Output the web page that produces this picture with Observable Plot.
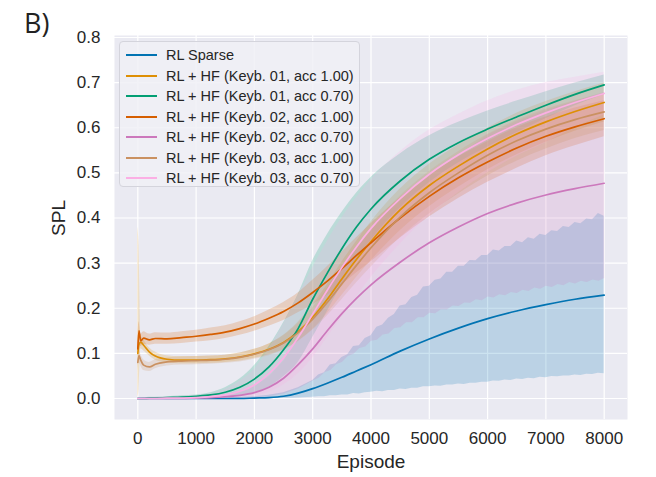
<!DOCTYPE html>
<html><head><meta charset="utf-8">
<script src="https://cdn.jsdelivr.net/npm/d3@7"></script>
<script src="https://cdn.jsdelivr.net/npm/@observablehq/plot@0.6"></script>
<style>
body{margin:0;background:#fff;}
#wrap{position:relative;width:656px;height:477px;font-family:"Liberation Sans",Arial,sans-serif;color:#262626;overflow:hidden;}
#wrap svg{position:absolute;left:0;top:0;}
.lab{position:absolute;white-space:nowrap;line-height:1;}
#legend{position:absolute;left:119px;top:41px;width:241px;height:146px;box-sizing:border-box;background:rgba(240,240,246,0.85);border:1px solid #d4d4dc;border-radius:4px;}
.row{position:absolute;left:0;height:20px;font-size:14.5px;line-height:20px;}
.sw{position:absolute;left:6px;top:9px;width:31px;height:2px;}
.tx{position:absolute;left:46px;top:0;white-space:nowrap;}
</style></head><body><div id="wrap"></div>
<script>
const episodes = [0, 20, 50, 100, 200, 300, 500, 750, 1000, 1250, 1500, 1750, 2000, 2250, 2500, 2750, 3000, 3250, 3500, 3750, 4000, 4500, 5000, 5500, 6000, 6500, 7000, 7500, 8000];

const seriesNames = ["RL Sparse", "RL + HF (Keyb. 01, acc 1.00)", "RL + HF (Keyb. 01, acc 0.70)", "RL + HF (Keyb. 02, acc 1.00)", "RL + HF (Keyb. 02, acc 0.70)", "RL + HF (Keyb. 03, acc 1.00)", "RL + HF (Keyb. 03, acc 0.70)"];
const seriesColors = ["#0173B2", "#DE8F05", "#029E73", "#D55E00", "#CC78BC", "#CA9161", "#FBAFE4"];

// RL Sparse
const sparseMean = [0,0,0,0,0,0,0,0,0,0,0,0,0.001,0.002,0.005,0.012,0.022,0.034,0.047,0.061,0.075,0.105,0.132,0.156,0.177,0.194,0.208,0.22,0.229];
const sparseLo   = [0,0,0,0,0,0,0,0,0,0,0,0,0,0,0,0.001,0.003,0.005,0.008,0.011,0.015,0.022,0.028,0.033,0.038,0.043,0.047,0.051,0.055];
const sparseHi   = [0,0,0,0,0,0,0,0,0.0005,0.001,0.001,0.002,0.004,0.007,0.013,0.024,0.04,0.062,0.088,0.114,0.14,0.198,0.25,0.288,0.318,0.342,0.362,0.384,0.405];
// RL Sparse band, fine-grained (3000..8000 every 100 episodes): noisy edges
const sparseBandFineLo = [0.003,0.004,0.004,0.006,0.006,0.008,0.008,0.011,0.010,0.013,0.014,0.016,0.015,0.018,0.018,0.021,0.020,0.023,0.023,0.026,0.026,0.028,0.027,0.030,0.030,0.032,0.031,0.034,0.034,0.036,0.036,0.039,0.038,0.041,0.040,0.043,0.042,0.045,0.044,0.047,0.046,0.049,0.048,0.050,0.050,0.052,0.051,0.054,0.053,0.056,0.055];
const sparseBandFineHi = [0.040,0.052,0.057,0.074,0.077,0.091,0.097,0.115,0.117,0.133,0.139,0.158,0.163,0.178,0.186,0.205,0.208,0.224,0.229,0.247,0.249,0.262,0.265,0.280,0.280,0.293,0.293,0.306,0.305,0.317,0.317,0.329,0.327,0.337,0.337,0.349,0.345,0.356,0.353,0.364,0.361,0.372,0.370,0.381,0.379,0.390,0.387,0.398,0.396,0.410,0.404];
// Keyb. 01, acc 1.00
const k01a100Mean = [0.10,0.12,0.125,0.118,0.103,0.094,0.087,0.085,0.085,0.086,0.088,0.092,0.099,0.109,0.124,0.148,0.18,0.22,0.265,0.308,0.348,0.418,0.472,0.515,0.553,0.586,0.613,0.636,0.656];
const k01a100Lo   = [0.0,0.02,0.11,0.106,0.094,0.085,0.079,0.077,0.077,0.078,0.08,0.083,0.089,0.097,0.108,0.127,0.153,0.188,0.228,0.268,0.305,0.372,0.425,0.468,0.507,0.54,0.568,0.592,0.613];
const k01a100Hi   = [0.38,0.34,0.14,0.13,0.112,0.103,0.095,0.093,0.093,0.094,0.096,0.101,0.109,0.121,0.14,0.169,0.207,0.252,0.302,0.348,0.391,0.464,0.519,0.562,0.599,0.632,0.658,0.68,0.699];
// Keyb. 01, acc 0.70
const k01a070Mean = [0,0,0,0,0.001,0.001,0.002,0.003,0.005,0.008,0.014,0.025,0.043,0.07,0.108,0.155,0.22,0.278,0.332,0.38,0.42,0.482,0.53,0.567,0.597,0.624,0.65,0.674,0.695];
const k01a070Lo   = [0,0,0,0,0,0,0,0.001,0.002,0.003,0.004,0.007,0.013,0.025,0.048,0.08,0.135,0.193,0.252,0.305,0.35,0.422,0.478,0.522,0.557,0.589,0.62,0.649,0.673];
const k01a070Hi   = [0.001,0.001,0.001,0.002,0.003,0.003,0.004,0.006,0.008,0.013,0.024,0.043,0.073,0.115,0.168,0.23,0.305,0.363,0.412,0.455,0.49,0.542,0.582,0.612,0.637,0.659,0.68,0.699,0.717];
// Keyb. 02, acc 1.00
const k02a100Mean = [0.11,0.15,0.128,0.134,0.13,0.133,0.132,0.135,0.138,0.142,0.147,0.155,0.165,0.178,0.193,0.212,0.235,0.26,0.288,0.317,0.345,0.4,0.448,0.489,0.524,0.555,0.581,0.602,0.62];
const k02a100Lo   = [0.09,0.13,0.115,0.12,0.118,0.12,0.12,0.122,0.125,0.128,0.133,0.14,0.149,0.16,0.173,0.19,0.208,0.228,0.252,0.278,0.303,0.355,0.402,0.443,0.479,0.51,0.538,0.56,0.58];
const k02a100Hi   = [0.13,0.17,0.142,0.148,0.143,0.146,0.145,0.148,0.151,0.156,0.161,0.17,0.181,0.196,0.213,0.234,0.262,0.292,0.324,0.356,0.387,0.445,0.494,0.535,0.569,0.6,0.624,0.644,0.66];
// Keyb. 02, acc 0.70
const k02a070Mean = [0,0,0,0,0,0,0,0,0.001,0.002,0.004,0.007,0.013,0.025,0.045,0.075,0.11,0.15,0.188,0.222,0.252,0.302,0.345,0.38,0.41,0.433,0.451,0.465,0.477];
const k02a070Lo   = [0,0,0,0,0,0,0,0,0,0,0,0.001,0.002,0.005,0.011,0.022,0.04,0.062,0.085,0.108,0.128,0.163,0.19,0.21,0.226,0.239,0.25,0.26,0.267];
const k02a070Hi   = [0.001,0.001,0.001,0.001,0.001,0.001,0.002,0.002,0.003,0.006,0.01,0.017,0.028,0.05,0.085,0.135,0.19,0.245,0.295,0.338,0.378,0.44,0.495,0.54,0.585,0.615,0.64,0.66,0.68];
// Keyb. 02, acc 0.70 lower band edge, fine-grained (3000..8000 every 100 episodes)
const k02a070FineLo = [0.040,0.046,0.058,0.063,0.076,0.081,0.094,0.099,0.112,0.115,0.128,0.130,0.142,0.144,0.156,0.158,0.169,0.169,0.180,0.180,0.190,0.189,0.198,0.197,0.206,0.205,0.213,0.212,0.220,0.218,0.226,0.224,0.231,0.229,0.236,0.234,0.241,0.238,0.246,0.243,0.250,0.247,0.254,0.251,0.258,0.255,0.261,0.258,0.264,0.261,0.267];
// Keyb. 03, acc 1.00
const k03a100Mean = [0.08,0.095,0.085,0.074,0.07,0.076,0.081,0.083,0.084,0.085,0.087,0.091,0.098,0.108,0.123,0.146,0.176,0.213,0.254,0.295,0.334,0.402,0.456,0.5,0.539,0.571,0.597,0.618,0.635];
const k03a100Lo   = [0.06,0.08,0.072,0.062,0.06,0.066,0.072,0.074,0.075,0.076,0.078,0.081,0.087,0.095,0.107,0.126,0.151,0.183,0.219,0.256,0.291,0.356,0.409,0.453,0.493,0.526,0.553,0.576,0.594];
const k03a100Hi   = [0.1,0.11,0.098,0.086,0.08,0.086,0.09,0.092,0.093,0.094,0.096,0.101,0.109,0.121,0.139,0.166,0.201,0.243,0.289,0.334,0.377,0.448,0.503,0.547,0.585,0.616,0.641,0.66,0.676];
// Keyb. 03, acc 0.70
const k03a070Mean = [0,0,0,0,0,0,0.001,0.001,0.002,0.004,0.008,0.016,0.03,0.055,0.09,0.135,0.187,0.24,0.29,0.336,0.377,0.443,0.497,0.54,0.576,0.607,0.633,0.656,0.676];
const k03a070Lo   = [0,0,0,0,0,0,0,0,0,0,0,0.002,0.006,0.014,0.03,0.055,0.09,0.135,0.18,0.225,0.268,0.342,0.405,0.456,0.5,0.537,0.567,0.6,0.628];
const k03a070Hi   = [0.001,0.001,0.001,0.001,0.002,0.002,0.003,0.004,0.006,0.01,0.02,0.038,0.065,0.11,0.165,0.228,0.29,0.348,0.4,0.445,0.485,0.547,0.595,0.63,0.66,0.683,0.7,0.712,0.723];

const xTicks = [0, 1000, 2000, 3000, 4000, 5000, 6000, 7000, 8000];
const yTicks = [0, 0.1, 0.2, 0.3, 0.4, 0.5, 0.6, 0.7, 0.8];

const fineEps = d3.range(3000, 8001, 100);
const nCoarse = episodes.indexOf(3000);

const means = [sparseMean, k01a100Mean, k01a070Mean, k02a100Mean, k02a070Mean, k03a100Mean, k03a070Mean];
const los = [sparseLo, k01a100Lo, k01a070Lo, k02a100Lo, k02a070Lo, k03a100Lo, k03a070Lo];
const his = [sparseHi, k01a100Hi, k01a070Hi, k02a100Hi, k02a070Hi, k03a100Hi, k03a070Hi];

const tables = seriesNames.map((name, s) => episodes.map((ep, i) => ({ep, mean: means[s][i], lo: los[s][i], hi: his[s][i]})));

// RL Sparse band: coarse before 3000, fine afterwards
const sparseBand = [
  ...episodes.slice(0, nCoarse).map((ep, i) => ({ep, lo: sparseLo[i], hi: sparseHi[i]})),
  ...fineEps.map((ep, i) => ({ep, lo: sparseBandFineLo[i], hi: sparseBandFineHi[i]}))
];
// Keyb. 02, acc 0.70 band as polygon: upper edge forward, lower edge (fine after 3000) backward
const k02Lower = [
  ...episodes.slice(0, nCoarse).map((ep, i) => ({ep, v: k02a070Lo[i]})),
  ...fineEps.map((ep, i) => ({ep, v: k02a070FineLo[i]}))
];
const k02Poly = [
  ...episodes.map((ep, i) => ({ep, v: k02a070Hi[i]})),
  ...k02Lower.slice().reverse()
];

const areaMarks = tables.map((t, s) => {
  if (s === 0) return Plot.areaY(sparseBand, {x: "ep", y1: "lo", y2: "hi", fill: seriesColors[0], fillOpacity: 0.2, curve: "linear"});
  if (s === 4) return Plot.line(k02Poly, {x: "ep", y: "v", fill: seriesColors[4], fillOpacity: 0.2, stroke: null, curve: "linear"});
  return Plot.areaY(t, {x: "ep", y1: "lo", y2: "hi", fill: seriesColors[s], fillOpacity: 0.2, curve: "monotone-x"});
});
const lineMarks = tables.map((t, s) => Plot.lineY(t, {x: "ep", y: "mean", stroke: seriesColors[s], strokeWidth: 1.7, curve: "monotone-x"}));

const chart = Plot.plot({
  width: 656, height: 477,
  marginLeft: 114, marginRight: 29, marginTop: 35, marginBottom: 58,
  style: {fontFamily: "'Liberation Sans', Arial, sans-serif", fontSize: "17px", color: "#262626", background: "transparent"},
  x: {domain: [-400, 8400]},
  y: {domain: [-0.0465, 0.8044]},
  marks: [
    Plot.frame({fill: "#EAEAF2", stroke: null}),
    Plot.gridX(xTicks, {stroke: "#ffffff", strokeOpacity: 1, strokeWidth: 1.2}),
    Plot.gridY(yTicks, {stroke: "#ffffff", strokeOpacity: 1, strokeWidth: 1.2}),
    ...areaMarks,
    ...lineMarks,
    Plot.axisX(xTicks, {tickSize: 0, tickPadding: 12, tickFormat: d => String(d), label: null, fill: "#262626"}),
    Plot.axisY(yTicks, {tickSize: 0, tickPadding: 14, tickFormat: d3.format(".1f"), label: null, fill: "#262626"})
  ]
});

const wrap = document.getElementById("wrap");
wrap.appendChild(chart);

const b = document.createElement("div");
b.className = "lab"; b.textContent = "B)";
b.style.cssText = "left:24px;top:9px;font-family:'Open Sans',sans-serif;font-size:27px;color:#222;";
wrap.appendChild(b);

const xl = document.createElement("div");
xl.className = "lab"; xl.textContent = "Episode";
xl.style.cssText = "left:371px;top:452px;transform:translateX(-50%);font-size:19px;";
wrap.appendChild(xl);

const yl = document.createElement("div");
yl.className = "lab"; yl.textContent = "SPL";
yl.style.cssText = "left:58px;top:218px;transform:translate(-50%,-50%) rotate(-90deg);font-size:19px;";
wrap.appendChild(yl);

const leg = document.createElement("div");
leg.id = "legend";
seriesNames.forEach((n, i) => {
  const r = document.createElement("div");
  r.className = "row"; r.style.top = (3 + i * 20.5) + "px";
  const sw = document.createElement("div"); sw.className = "sw"; sw.style.background = seriesColors[i];
  const tx = document.createElement("div"); tx.className = "tx"; tx.textContent = n;
  r.appendChild(sw); r.appendChild(tx); leg.appendChild(r);
});
wrap.appendChild(leg);
</script></body></html>
